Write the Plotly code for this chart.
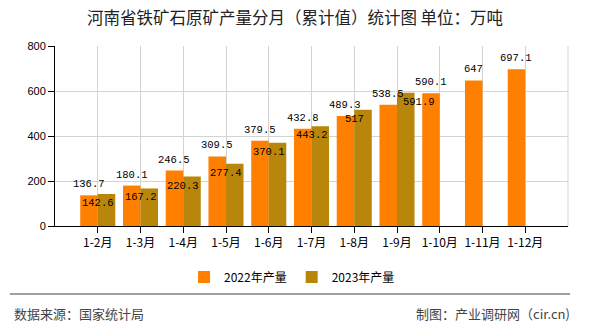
import plotly.graph_objects as go

categories = ["1-2月", "1-3月", "1-4月", "1-5月", "1-6月", "1-7月", "1-8月",
              "1-9月", "1-10月", "1-11月", "1-12月"]
values_2022 = [136.7, 180.1, 246.5, 309.5, 379.5, 432.8, 489.3, 538.5, 590.1, 647, 697.1]
values_2023 = [142.6, 167.2, 220.3, 277.4, 370.1, 443.2, 517, 591.9]
series_names = ["2022年产量", "2023年产量"]
y_ticks = [0, 200, 400, 600, 800]

title_text = "河南省铁矿石原矿产量分月（累计值）统计图 单位：万吨"
source_text = "数据来源：国家统计局"
maker_text = "制图：产业调研网（cir.cn)"

color_2022 = "#FF8000"
color_2023 = "#B8860B"
label_font = dict(family="Liberation Mono, DejaVu Sans Mono, monospace", size=10.5, color="#000")

fig = go.Figure()
fig.add_trace(go.Bar(x=categories, y=values_2022, name=series_names[0],
                     marker=dict(color=color_2022, line=dict(width=0))))
fig.add_trace(go.Bar(x=categories[:len(values_2023)], y=values_2023, name=series_names[1],
                     marker=dict(color=color_2023, line=dict(width=0))))

annotations = []
for c, v in zip(categories, values_2022):
    annotations.append(dict(x=c, y=v, xref="x", yref="y", text=f"{v:g}", showarrow=False,
                            xshift=-9, yshift=3, yanchor="bottom", xanchor="center", font=label_font))
n23 = len(values_2023)
for i, (c, v) in enumerate(zip(categories, values_2023)):
    # the last label is nudged right in the reference to clear its neighbour
    shift = 22 if i == n23 - 1 else 0
    annotations.append(dict(x=c, y=v, xref="x", yref="y", text=f"{v:g}", showarrow=False,
                            xshift=shift, yshift=-1, yanchor="top", xanchor="center", font=label_font))

footer_font = dict(family="Noto Sans CJK SC", size=13, color="#444")
annotations.append(dict(x=-0.084, y=-0.487, xref="paper", yref="paper", text=source_text,
                        showarrow=False, xanchor="left", yanchor="middle", font=footer_font))
annotations.append(dict(x=1.008, y=-0.487, xref="paper", yref="paper", text=maker_text,
                        showarrow=False, xanchor="right", yanchor="middle", font=footer_font))

fig.update_layout(
    width=590, height=330,
    margin=dict(l=55, r=22, t=46, b=101),
    paper_bgcolor="#fff", plot_bgcolor="#fff",
    barmode="group", bargap=0.18, bargroupgap=0,
    title=dict(text=title_text, x=0.5, xanchor="center", xref="container",
               y=1 - 18 / 330, yanchor="middle", yref="container",
               font=dict(family="Noto Sans CJK SC", size=16.5, color="#222")),
    showlegend=True,
    legend=dict(orientation="h", xref="container", yref="container",
                x=0.495, xanchor="center", y=(330 - 277) / 330, yanchor="middle",
                font=dict(family="Noto Sans CJK SC", size=12, color="#000"),
                itemwidth=30, tracegroupgap=0, bgcolor="rgba(0,0,0,0)"),
    xaxis=dict(type="category", range=[-1, 11], showgrid=True, gridcolor="#d3d3d3", gridwidth=1,
               showline=True, linecolor="#000", linewidth=1, ticks="outside", ticklen=6,
               tickcolor="#000", tickfont=dict(family="Noto Sans CJK SC", size=12, color="#000"),
               fixedrange=True),
    yaxis=dict(range=[0, 800], tickvals=y_ticks, showgrid=True, gridcolor="#d3d3d3", gridwidth=1,
               zeroline=False, showline=True, linecolor="#000", linewidth=1, ticks="outside",
               ticklen=6, tickcolor="#000",
               tickfont=dict(family="Liberation Sans, Arial", size=11, color="#000")),
    annotations=annotations,
    shapes=[
        dict(type="line", xref="paper", yref="paper", x0=1, x1=1, y0=0, y1=1,
             line=dict(color="#d3d3d3", width=1)),
        dict(type="line", xref="paper", yref="paper", x0=-0.088, x1=1.004,
             y0=(229 - 298) / 183, y1=(229 - 298) / 183, line=dict(color="#808080", width=1.5)),
    ],
)

fig.write_html("out.html")
